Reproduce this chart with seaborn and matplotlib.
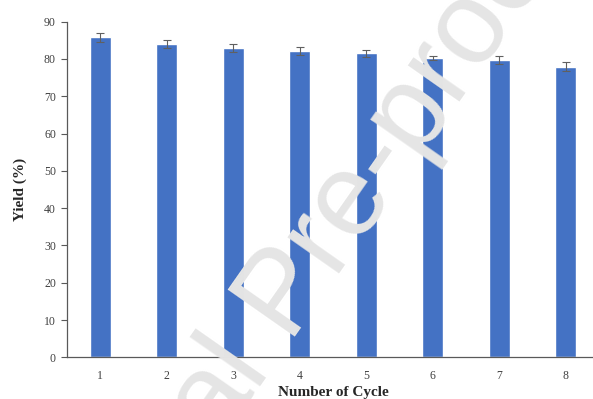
import seaborn as sns
import matplotlib.pyplot as plt
import pandas as pd

# dados
ciclos = ['1', '2', '3', '4', '5', '6', '7', '8']
rendimento = [85.8, 84.0, 82.9, 82.2, 81.5, 80.2, 79.7, 77.9]
erro = [1.2, 1.0, 1.1, 1.1, 1.0, 0.6, 1.1, 1.2]
y_ticks = [0, 10, 20, 30, 40, 50, 60, 70, 80, 90]

df = pd.DataFrame({'ciclo': ciclos, 'rendimento': rendimento})

sns.set_style('white')
plt.rcParams['font.family'] = ['Liberation Serif', 'DejaVu Serif']

fig = plt.figure(figsize=(5.93, 3.99), dpi=100)
ax = fig.add_axes([67 / 593, 1 - 357.3 / 399, 532 / 593, (357.3 - 21.7) / 399])

sns.barplot(data=df, x='ciclo', y='rendimento', color='#4472C4', width=0.31,
            saturation=1, errorbar=None, ax=ax)
ax.errorbar(range(len(ciclos)), rendimento, yerr=erro, fmt='none',
            ecolor='#606060', elinewidth=0.8, capsize=3, capthick=0.8)

ax.set_xlim(-0.5, len(ciclos) - 0.5)
ax.set_ylim(0, 90)
ax.set_yticks(y_ticks)

# marcas do eixo x entre as barras
ax.set_xticks([i - 0.5 for i in range(len(ciclos) + 1)], minor=True)
ax.tick_params(axis='x', which='major', length=0, pad=9, labelsize=8.5, colors='#404040')
ax.tick_params(axis='x', which='minor', length=4, width=0.8, color='#595959')
ax.tick_params(axis='y', which='major', length=4, width=0.8, color='#595959',
               left=True, labelsize=8.5, labelcolor='#404040', pad=4)

sns.despine(ax=ax)
for s in ['left', 'bottom']:
    ax.spines[s].set_color('#595959')
    ax.spines[s].set_linewidth(0.9)

ax.set_xlabel('Number of Cycle', fontsize=11, fontweight='bold', labelpad=3)
ax.set_ylabel('Yield (%)', fontsize=11, fontweight='bold', labelpad=12)

# marca d'agua
fig.text(311 / 593, 1 - 314 / 399, 'Journal Pre-proof', rotation=55, rotation_mode='anchor',
         ha='center', va='baseline', fontsize=85, color='#e5e5e5',
         family='Liberation Sans', zorder=10)

plt.savefig('out.png', dpi=100)
